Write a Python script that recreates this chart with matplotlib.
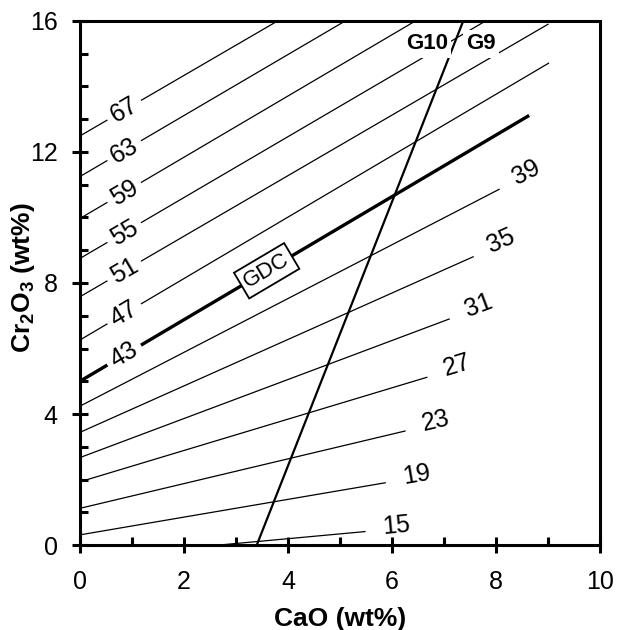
import numpy as np
import matplotlib
matplotlib.use('Agg')
import matplotlib.pyplot as plt
from matplotlib.ticker import MultipleLocator

plt.rcParams['font.family'] = ['Liberation Sans', 'DejaVu Sans']
plt.rcParams['mathtext.fontset'] = 'custom'
plt.rcParams['mathtext.rm'] = 'Liberation Sans'
plt.rcParams['mathtext.bf'] = 'Liberation Sans:bold'

# изобары (kbar): начало и конец каждой линии, CaO / Cr2O3 в wt%
pressures = [15, 19, 23, 27, 31, 35, 39, 43, 47, 51, 55, 59, 63, 67]
cao_start = [2.0, 0, 0, 0, 0, 0, 0, 0, 0, 0, 0, 0, 0, 0]
cr_start = [-0.1, 0.31, 1.12, 1.93, 2.67, 3.44, 4.24, 5.0, 6.26, 7.58, 8.75, 9.97, 11.25, 12.49]
cao_end = [5.48, 5.87, 6.25, 6.67, 7.10, 7.56, 8.06, 8.61, 9.01, 9.0, 7.8, 6.45, 5.1, 3.8]
cr_end = [0.41, 1.90, 3.48, 5.12, 6.90, 8.80, 10.86, 13.09, 14.71, 15.9, 16.0, 16.0, 16.0, 16.0]

gdc_pressure = 43  # линия GDC совпадает с изобарой 43

# граница G10 / G9
g10_cao = [3.4, 7.37]
g10_cr = [0, 16]

fig = plt.figure(figsize=(6.18, 6.30), dpi=100)
ax = fig.add_axes([0.1294, 0.1349, 0.8415, 0.8318])
ax.set_xlim(0, 10)
ax.set_ylim(0, 16)


def screen_angle(x0, y0, x1, y1):
    (a, b), (c, d) = ax.transData.transform([(x0, y0), (x1, y1)])
    return np.arctan2(d - b, c - a)


for p, x0, y0, x1, y1 in zip(pressures, cao_start, cr_start, cao_end, cr_end):
    lw = 2.4 if p == gdc_pressure else 0.9
    ax.plot([x0, x1], [y0, y1], color='black', lw=lw, zorder=2)
    a = screen_angle(x0, y0, x1, y1)
    if p >= gdc_pressure:
        # подпись на линии слева, с белым фоном
        xl = 0.85
        yl = y0 + (y1 - y0) * (xl - x0) / (x1 - x0)
        ax.text(xl, yl, str(p), fontsize=18, ha='center', va='center',
                rotation=np.degrees(a), rotation_mode='anchor',
                bbox=dict(boxstyle='square,pad=0.22', fc='white', ec='none'), zorder=3)
    else:
        # подпись за концом линии справа
        off = (23 * np.cos(a) - 2 * np.sin(a), 23 * np.sin(a) + 2 * np.cos(a))
        ax.annotate(str(p), xy=(x1, y1), xytext=off, textcoords='offset points',
                    fontsize=18, ha='center', va='center',
                    rotation=np.degrees(a), rotation_mode='anchor')

ax.plot(g10_cao, g10_cr, color='black', lw=1.6, zorder=2)

# подпись GDC в рамке
k = pressures.index(gdc_pressure)
gx = 3.59
gy = cr_start[k] + (cr_end[k] - cr_start[k]) * gx / cao_end[k]
ga = screen_angle(0, cr_start[k], cao_end[k], cr_end[k])
ax.text(gx, gy, 'GDC', fontsize=16, ha='center', va='center', rotation=np.degrees(ga),
        rotation_mode='anchor',
        bbox=dict(boxstyle='square,pad=0.2', fc='white', ec='black', lw=1.3), zorder=4)

ax.text(6.67, 15.3, 'G10', fontsize=16, fontweight='bold', ha='center', va='center',
        bbox=dict(boxstyle='square,pad=0.15', fc='white', ec='none'), zorder=4)
ax.text(7.71, 15.3, 'G9', fontsize=16, fontweight='bold', ha='center', va='center',
        bbox=dict(boxstyle='square,pad=0.15', fc='white', ec='none'), zorder=4)

ax.xaxis.set_major_locator(MultipleLocator(2))
ax.xaxis.set_minor_locator(MultipleLocator(1))
ax.yaxis.set_major_locator(MultipleLocator(4))
ax.yaxis.set_minor_locator(MultipleLocator(1))

for s in ax.spines.values():
    s.set_linewidth(2.2)
    s.set_zorder(5)
ax.tick_params(which='major', direction='inout', length=12, width=2.2, labelsize=18)
ax.tick_params(axis='x', which='major', pad=12)
ax.tick_params(axis='y', which='major', pad=10)
ax.tick_params(which='minor', direction='in', length=6, width=2.2)
ax.tick_params(which='both', top=False, right=False)

ax.set_xlabel('CaO (wt%)', fontsize=19, fontweight='bold')
ax.set_ylabel(r'$\mathbf{Cr_2O_3}$ (wt%)', fontsize=19, fontweight='bold')
ax.xaxis.set_label_coords(0.5, -0.118)
ax.yaxis.set_label_coords(-0.083, 0.51)

fig.savefig('out.png', dpi=100)
